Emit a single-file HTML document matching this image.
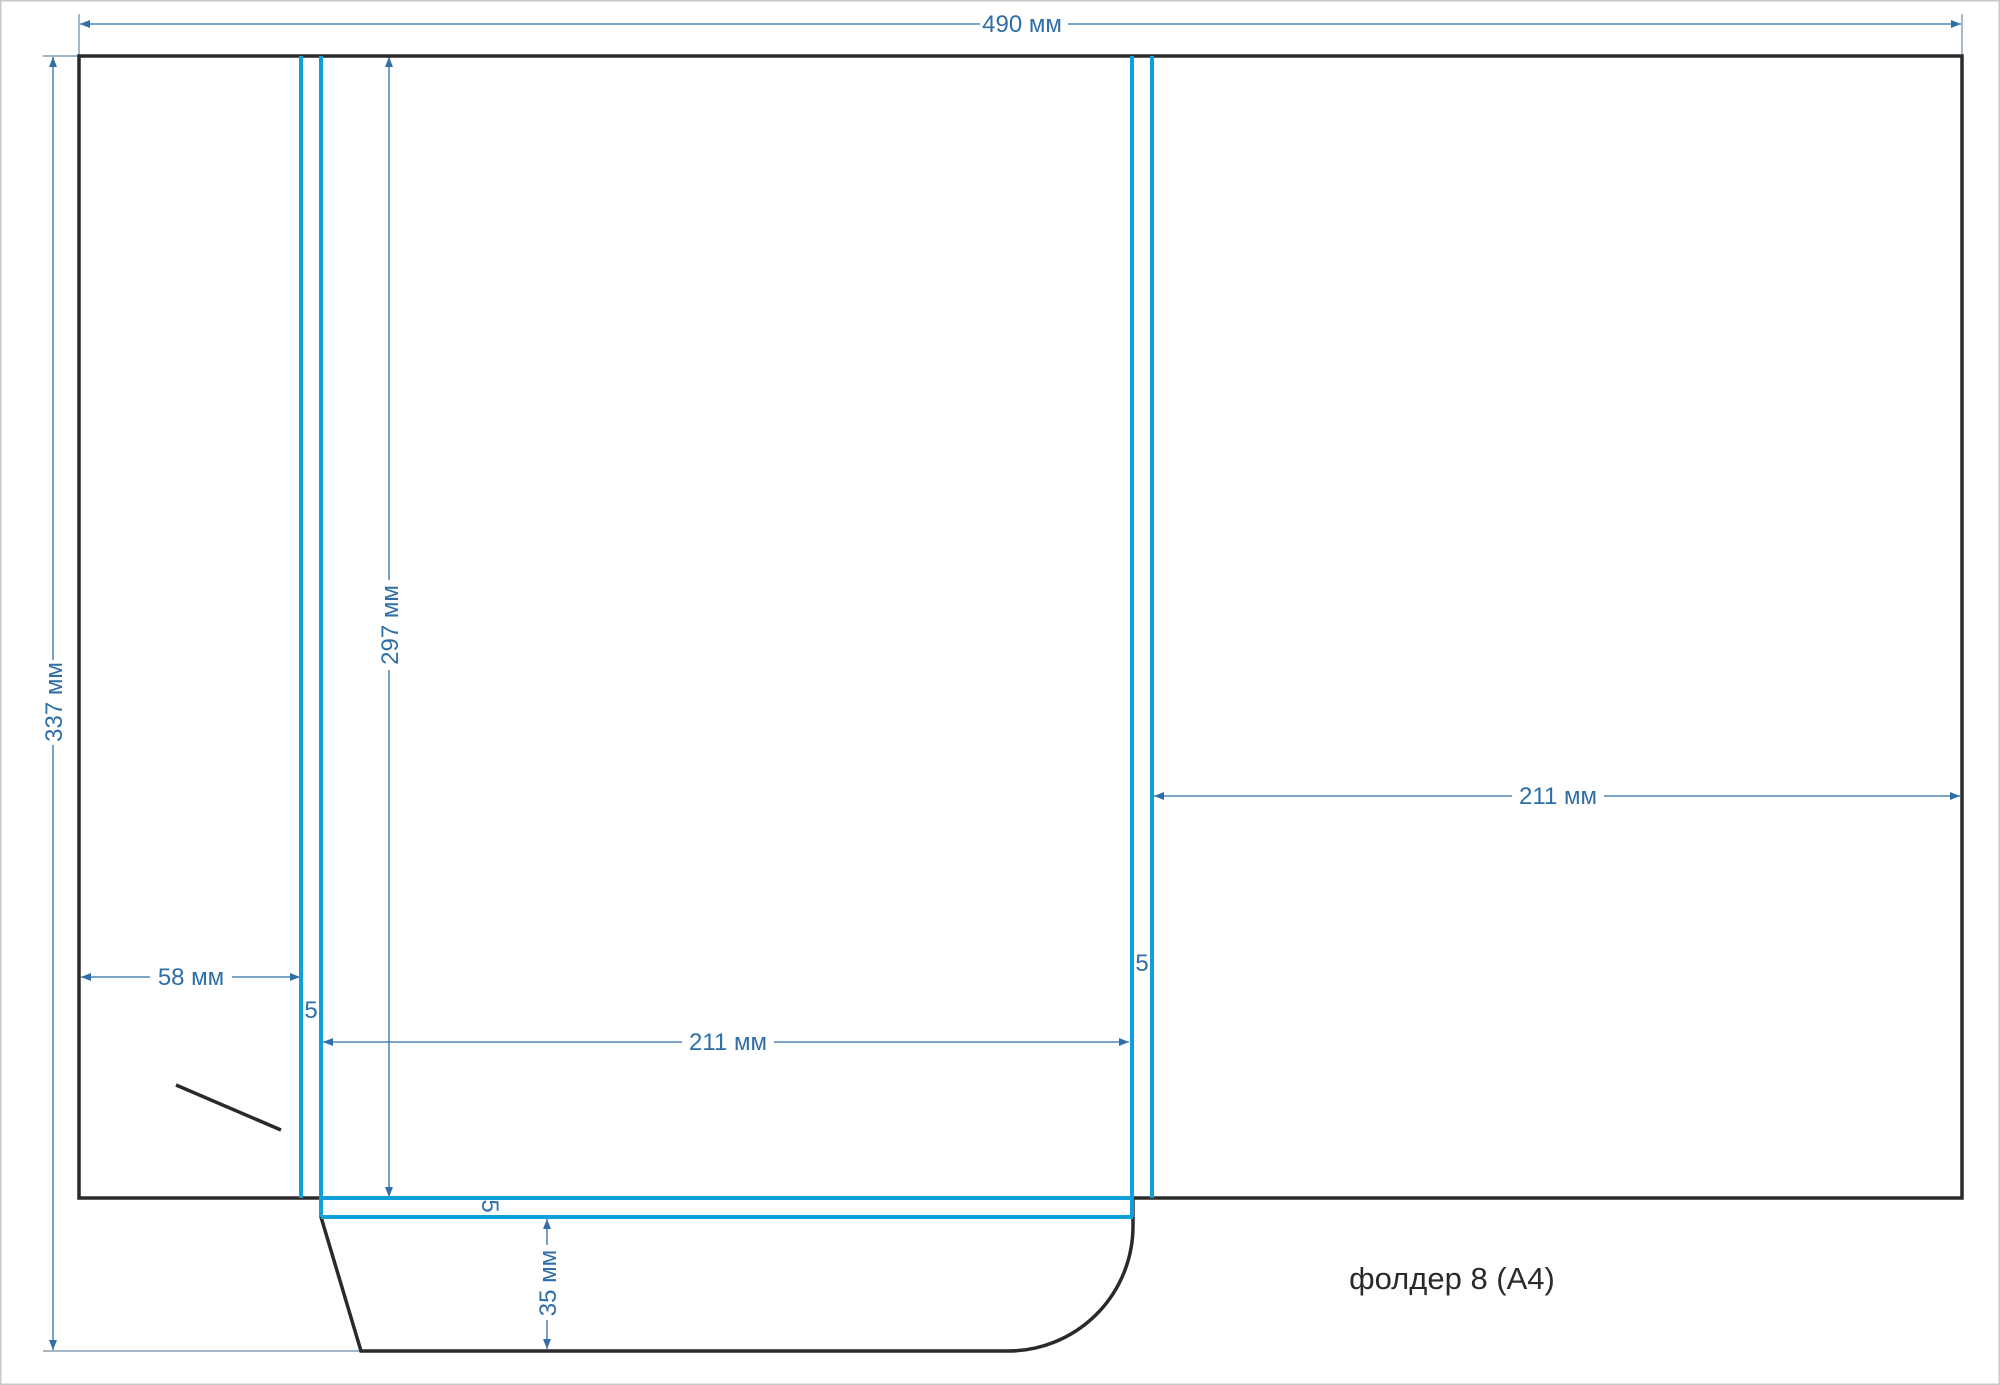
<!DOCTYPE html>
<html><head><meta charset="utf-8"><style>
html,body{margin:0;padding:0;background:#fff;}
svg{display:block;}
text{font-family:"Liberation Sans",sans-serif;fill:#2f6ea6;font-size:24px;}
</style></head><body>
<svg width="2000" height="1385" viewBox="0 0 2000 1385" xmlns="http://www.w3.org/2000/svg">
<defs>
<marker id="a" viewBox="0 0 10 10" refX="10" refY="5" markerWidth="14" markerHeight="10" markerUnits="userSpaceOnUse" orient="auto-start-reverse"><path d="M0,1 L10,5 L0,9 z" fill="#2f6ea6"/></marker>
</defs>
<rect x="0.5" y="0.5" width="1999" height="1384" fill="#fff" stroke="#c8c8c8" stroke-width="2"/>
<!-- dimension extension lines -->
<g stroke="#6a8aa8" stroke-width="1.2" fill="none">
<line x1="79" y1="14" x2="79" y2="56"/>
<line x1="1962" y1="14" x2="1962" y2="56"/>
<line x1="43" y1="56" x2="79" y2="56"/>
<line x1="43" y1="1351" x2="361" y2="1351"/>
</g>
<!-- dimension lines -->
<g stroke="#2f6ea6" stroke-width="1.3" fill="none" marker-start="url(#a)" marker-end="url(#a)">
<line x1="80" y1="24" x2="980" y2="24" marker-end="none"/>
<line x1="1068" y1="24" x2="1961" y2="24" marker-start="none"/>
<line x1="53" y1="57" x2="53" y2="660" marker-end="none"/>
<line x1="53" y1="745" x2="53" y2="1350" marker-start="none"/>
<line x1="389" y1="57" x2="389" y2="580" marker-end="none"/>
<line x1="389" y1="670" x2="389" y2="1197" marker-start="none"/>
<line x1="81" y1="977" x2="150" y2="977" marker-end="none"/>
<line x1="232" y1="977" x2="300" y2="977" marker-start="none"/>
<line x1="323" y1="1042" x2="682" y2="1042" marker-end="none"/>
<line x1="774" y1="1042" x2="1129" y2="1042" marker-start="none"/>
<line x1="1154" y1="796" x2="1512" y2="796" marker-end="none"/>
<line x1="1604" y1="796" x2="1960" y2="796" marker-start="none"/>
<line x1="547" y1="1219" x2="547" y2="1245" marker-end="none"/>
<line x1="547" y1="1320" x2="547" y2="1349" marker-start="none"/>
</g>
<!-- outer cut lines -->
<g stroke="#2a2a2a" stroke-width="3.5" fill="none" stroke-linejoin="miter">
<rect x="79" y="56" width="1883" height="1142"/>
<path d="M321,1198 L321,1217 L361,1351 L1008,1351 A125,125 0 0 0 1133,1226 L1133,1198"/>
<line x1="176" y1="1085" x2="281" y2="1130"/>
</g>
<!-- fold lines -->
<g stroke="#0fa0dc" stroke-width="4" fill="none">
<line x1="301" y1="56" x2="301" y2="1198"/>
<line x1="321" y1="56" x2="321" y2="1217"/>
<line x1="1132" y1="56" x2="1132" y2="1217"/>
<line x1="1152" y1="56" x2="1152" y2="1198"/>
<line x1="321" y1="1198" x2="1133" y2="1198"/>
<line x1="321" y1="1217" x2="1133" y2="1217"/>
</g>
<!-- labels -->
<text x="1022" y="32" text-anchor="middle">490 мм</text>
<text x="0" y="0" transform="translate(62,702) rotate(-90)" text-anchor="middle">337 мм</text>
<text x="0" y="0" transform="translate(398,625) rotate(-90)" text-anchor="middle">297 мм</text>
<text x="191" y="985" text-anchor="middle">58 мм</text>
<text x="728" y="1050" text-anchor="middle">211 мм</text>
<text x="1558" y="804" text-anchor="middle">211 мм</text>
<text x="0" y="0" transform="translate(556,1283) rotate(-90)" text-anchor="middle">35 мм</text>
<text x="311" y="1018" text-anchor="middle">5</text>
<text x="1142" y="971" text-anchor="middle">5</text>
<text x="0" y="0" transform="translate(482,1206) rotate(90)" text-anchor="middle">5</text>
<text x="1452" y="1289" text-anchor="middle" style="fill:#2a2a2a;font-size:31px">фолдер 8 (А4)</text>
</svg>
</body></html>
